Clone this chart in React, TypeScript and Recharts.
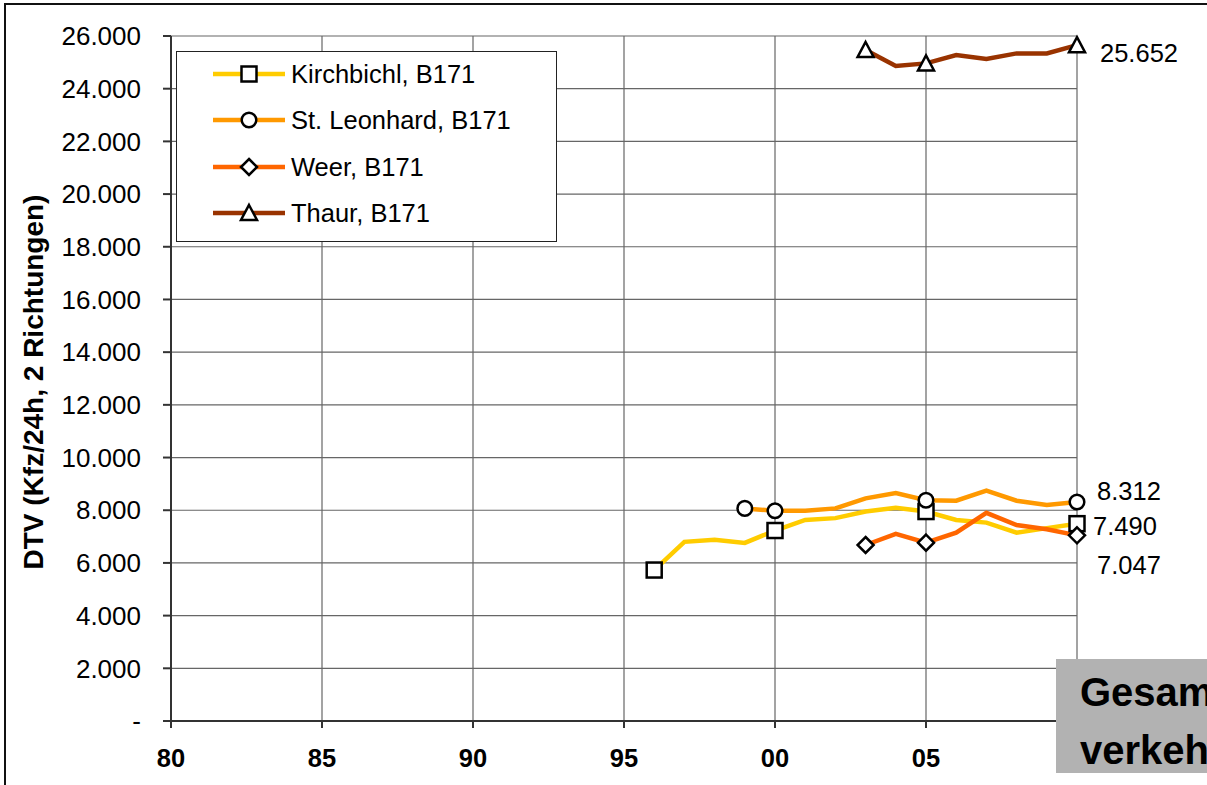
import { LineChart, Line, XAxis, YAxis, CartesianGrid, Legend } from "recharts";

// Survey years (only 1996 onwards carry counts)
const years = [1996, 1997, 1998, 1999, 2000, 2001, 2002, 2003, 2004, 2005, 2006, 2007, 2008, 2009, 2010];

// DTV, Kfz/24h in both directions
const kirchbichl = [5730, 6800, 6880, 6760, 7230, 7630, 7700, 7950, 8090, 7950, 7630, 7530, 7150, 7320, 7490];
const stLeonhard = [null, null, null, 8070, 7980, 7980, 8070, 8450, 8650, 8380, 8360, 8740, 8360, 8200, 8312];
const weer = [null, null, null, null, null, null, null, 6680, 7100, 6770, 7150, 7900, 7440, 7280, 7047];
const thaur = [null, null, null, null, null, null, null, 25470, 24860, 24960, 25280, 25130, 25340, 25340, 25652];

// years that were counted directly and get a marker
const kirchbichlCounts = [1996, 2000, 2005, 2010];
const stLeonhardCounts = [1999, 2000, 2005, 2010];
const weerCounts = [2003, 2005, 2010];
const thaurCounts = [2003, 2005, 2010];

const xTicks = [1980, 1985, 1990, 1995, 2000, 2005, 2010];
const yTicks = [0, 2000, 4000, 6000, 8000, 10000, 12000, 14000, 16000, 18000, 20000, 22000, 24000, 26000];

const FONT = '"Liberation Sans", Arial, sans-serif';

type Shape = "square" | "circle" | "diamond" | "triangle";

const series: {
  key: string;
  name: string;
  color: string;
  shape: Shape;
  values: (number | null)[];
  counts: number[];
  labelDx: number;
  labelDy: number;
}[] = [
  { key: "kirchbichl", name: "Kirchbichl, B171", color: "#FFCC00", shape: "square", values: kirchbichl, counts: kirchbichlCounts, labelDx: 16, labelDy: 2 },
  { key: "stLeonhard", name: "St. Leonhard, B171", color: "#FF9900", shape: "circle", values: stLeonhard, counts: stLeonhardCounts, labelDx: 20, labelDy: -11 },
  { key: "weer", name: "Weer, B171", color: "#FF6600", shape: "diamond", values: weer, counts: weerCounts, labelDx: 20, labelDy: 30 },
  { key: "thaur", name: "Thaur, B171", color: "#993300", shape: "triangle", values: thaur, counts: thaurCounts, labelDx: 23, labelDy: 8 },
];

const data = years.map((year, i) => {
  const row: Record<string, number | null> = { year };
  series.forEach((s) => {
    row[s.key] = s.values[i];
  });
  return row;
});

const formatDe = (v: number) => {
  if (v === 0) return "-";
  return Math.round(v)
    .toString()
    .replace(/\B(?=(\d{3})+(?!\d))/g, ".");
};

// the 2010 label sits under the "Gesamtverkehr" box, so it is left blank
const formatYear = (v: number) => (v === 2010 ? "" : String(v % 100).padStart(2, "0"));

function Marker({ shape, cx, cy }: { shape: Shape; cx: number; cy: number }) {
  const style = { fill: "#fff", stroke: "#000", strokeWidth: 2.5 };
  if (shape === "square") {
    return <rect x={cx - 7.5} y={cy - 7.5} width={15} height={15} {...style} />;
  }
  if (shape === "circle") {
    return <circle cx={cx} cy={cy} r={7.3} {...style} />;
  }
  if (shape === "diamond") {
    return <polygon points={`${cx},${cy - 8} ${cx + 8},${cy} ${cx},${cy + 8} ${cx - 8},${cy}`} {...style} />;
  }
  return <polygon points={`${cx},${cy - 8} ${cx + 8},${cy + 7} ${cx - 8},${cy + 7}`} {...style} />;
}

function LegendBox() {
  return (
    <div
      style={{
        boxSizing: "border-box",
        width: 381,
        height: 191,
        border: "1.5px solid #222",
        background: "#fff",
        fontFamily: FONT,
        fontSize: 25.5,
        color: "#000",
        paddingTop: 0,
      }}
    >
      {series.map((s) => (
        <div key={s.key} style={{ height: 46.5, position: "relative", top: -1.5 }}>
          <svg width={74} height={30} style={{ position: "absolute", left: 36, top: 8 }}>
            <line x1={0} y1={15} x2={72} y2={15} stroke={s.color} strokeWidth={4.5} />
            <Marker shape={s.shape} cx={36} cy={15} />
          </svg>
          <span style={{ position: "absolute", left: 114, top: 8, lineHeight: "30px" }}>{s.name}</span>
        </div>
      ))}
    </div>
  );
}

export default function App() {
  return (
    <div
      style={{
        position: "absolute",
        left: 0,
        top: 0,
        width: 1207,
        height: 785,
        overflow: "hidden",
        background: "#fff",
        fontFamily: FONT,
      }}
    >
      <div
        style={{
          position: "absolute",
          left: 4,
          top: 3,
          width: 1400,
          height: 1000,
          border: "2px solid #111",
        }}
      />
      <div style={{ position: "absolute", left: 0, top: 0 }}>
        <LineChart width={1207} height={785} data={data} margin={{ top: 36, right: 130, bottom: 14, left: 0 }}>
          <CartesianGrid stroke="#666" strokeWidth={1.2} />
          <XAxis
            dataKey="year"
            type="number"
            domain={[1980, 2010]}
            ticks={xTicks}
            tickFormatter={formatYear}
            height={50}
            stroke="#333"
            strokeWidth={2}
            tickSize={7}
            tickMargin={21}
            tick={{ fill: "#000", fontSize: 25.5, fontWeight: "bold" }}
          />
          <YAxis
            domain={[0, 26000]}
            ticks={yTicks}
            tickFormatter={formatDe}
            width={171}
            stroke="#333"
            strokeWidth={2}
            tickSize={8}
            tickMargin={22}
            tick={{ fill: "#000", fontSize: 26 }}
            label={{
              content: () => (
                <text
                  transform="translate(33, 382) rotate(-90)"
                  textAnchor="middle"
                  dominantBaseline="central"
                  fontSize={28}
                  fontWeight="bold"
                  fill="#000"
                >
                  DTV (Kfz/24h, 2 Richtungen)
                </text>
              ),
            }}
          />
          <Legend
            layout="vertical"
            align="center"
            verticalAlign="middle"
            wrapperStyle={{ left: 176, top: 51, width: 381, height: 191 }}
            content={() => <LegendBox />}
          />
          {series.map((s) => (
            <Line
              key={s.key}
              dataKey={s.key}
              name={s.name}
              type="linear"
              stroke={s.color}
              strokeWidth={4.5}
              isAnimationActive={false}
              dot={(p: any) => {
                const show = p.value != null && p.cx != null && s.counts.includes(p.payload.year);
                return (
                  <g key={`${s.key}-dot-${p.index}`}>
                    {show && <Marker shape={s.shape} cx={p.cx} cy={p.cy} />}
                  </g>
                );
              }}
              label={(p: any) =>
                p.index === years.length - 1 ? (
                  <text
                    key={`${s.key}-label`}
                    x={p.x + s.labelDx}
                    y={p.y + s.labelDy}
                    dominantBaseline="central"
                    fontSize={25.5}
                    fill="#000"
                  >
                    {formatDe(p.value)}
                  </text>
                ) : (
                  <g key={`${s.key}-label-${p.index}`} />
                )
              }
            />
          ))}
        </LineChart>
      </div>
      <div
        style={{
          position: "absolute",
          left: 1056,
          top: 659,
          width: 151,
          height: 114,
          overflow: "hidden",
          background: "#B2B2B2",
          boxSizing: "border-box",
          paddingLeft: 24,
          paddingTop: 4,
          fontSize: 40,
          fontWeight: "bold",
          lineHeight: "58px",
          whiteSpace: "nowrap",
          color: "#000",
        }}
      >
        <div>Gesamt-</div>
        <div>verkehr</div>
      </div>
    </div>
  );
}
